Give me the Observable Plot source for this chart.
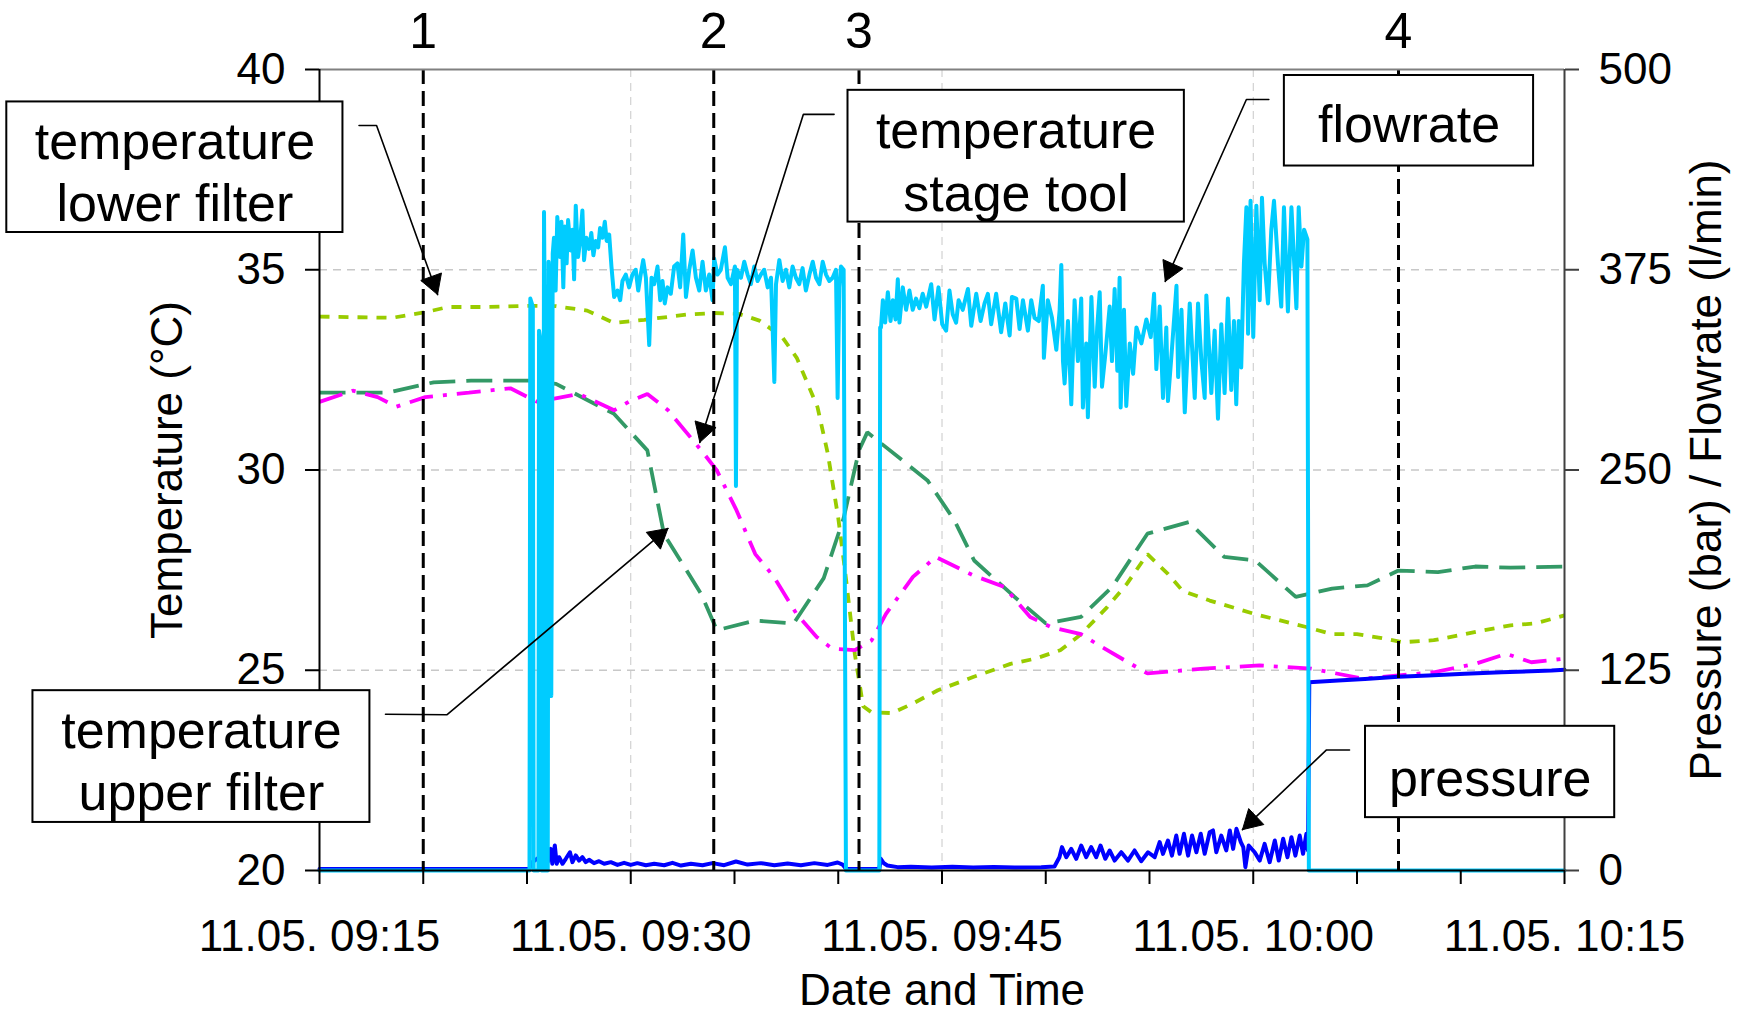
<!DOCTYPE html>
<html><head><meta charset="utf-8">
<script src="https://cdn.jsdelivr.net/npm/d3@7"></script>
<script src="https://cdn.jsdelivr.net/npm/@observablehq/plot@0.6"></script>
<style>html,body{margin:0;padding:0;background:#fff;} svg{display:block;}</style>
</head><body><div id="chart"></div>
<script>
// time axis: minutes after 11.05. 09:15
const xTicks = [0,5,10,15,20,25,30,35,40,45,50,55,60];
const xLabelTicks = [0,15,30,45,60];
const xGrid = [15,30,45];
const tempTicks = [20,25,30,35,40];
const tempGrid = [25,30,35];
const rightTickLabels = [0,125,250,375,500];
const markerMin = [5,19,26,52];
const markerLabel = ["1","2","3","4"];

// temperature series [minute, °C]
const lowerFilter = [[0,33.83],[3.5,33.8],[5.1,33.94],[6.2,34.07],[8.1,34.07],[10.1,34.1],[11.4,34.09],[12.9,33.98],[14.2,33.67],[15.65,33.75],[17.7,33.88],[19.0,33.92],[20.2,33.9],[21.2,33.73],[22.3,33.32],[23.0,32.8],[24.0,31.57],[24.5,30.4],[25.0,28.8],[25.3,27.6],[25.8,25.4],[26.2,24.1],[26.6,23.95],[27.6,23.93],[28.6,24.17],[29.8,24.5],[31.5,24.83],[33.3,25.16],[34.5,25.29],[35.7,25.5],[36.7,25.9],[37.95,26.57],[38.9,27.15],[39.9,27.9],[40.9,27.4],[41.6,26.98],[42.9,26.74],[45.1,26.4],[47.55,26.08],[48.8,25.9],[50.0,25.9],[51.2,25.8],[52.2,25.7],[53.7,25.75],[54.9,25.87],[56.1,26.0],[57.4,26.12],[58.6,26.17],[60,26.37]];
const upperFilter = [[0,31.93],[3.3,31.93],[5.5,32.19],[7.3,32.23],[10.1,32.23],[11.4,32.15],[14.2,31.4],[15.8,30.49],[16.6,28.4],[18.4,26.9],[19.15,26.0],[21.0,26.24],[22.85,26.17],[24.3,27.3],[25.26,28.8],[26.0,30.49],[26.4,30.94],[29.3,29.74],[30.6,28.74],[31.55,27.74],[33.5,26.83],[35.0,26.17],[36.7,26.33],[38.2,27.08],[39.9,28.41],[41.9,28.7],[43.6,27.83],[45.1,27.74],[47.05,26.83],[48.8,27.04],[50.5,27.12],[52.0,27.49],[53.9,27.45],[55.7,27.59],[57.4,27.56],[60,27.59]];
const stageTool = [[0,31.7],[1.6,31.98],[2.8,31.82],[3.7,31.58],[5.1,31.82],[7.2,31.93],[9.2,32.04],[10.5,31.7],[12.5,31.9],[14.2,31.49],[14.9,31.7],[15.8,31.9],[16.8,31.49],[18.4,30.49],[19.15,29.99],[20.1,28.99],[21.0,27.9],[21.9,27.33],[23.0,26.4],[23.96,25.83],[24.7,25.54],[25.8,25.5],[26.6,25.74],[27.3,26.41],[28.6,27.33],[29.7,27.83],[31.5,27.37],[33.0,27.08],[34.25,26.33],[35.25,26.08],[36.7,25.9],[37.7,25.58],[39.9,24.92],[42.6,25.04],[45.3,25.12],[47.8,25.04],[50.3,24.79],[52.0,24.87],[53.7,24.95],[55.7,25.16],[57.2,25.41],[58.4,25.2],[60,25.29]];

// pressure [minute, bar]
const pressure = [[0,1],[10.1,1],[10.26,5.2],[10.82,10.4],[10.9,13.5],[11.0,5.2],[11.14,13.5],[11.22,4.2],[11.34,15.6],[11.43,4.2],[11.55,8.3],[11.71,4.2],[11.87,7.3],[12.07,11.4],[12.19,5.2],[12.35,9.4],[12.51,6.2],[12.67,8.3],[12.83,5.2],[12.99,6.7],[13.23,4.6],[13.47,5.8],[13.72,4.2],[14.04,5.2],[14.36,3.5],[14.68,4.8],[15.0,3.5],[15.32,4.6],[15.73,3.3],[16.13,4.2],[16.61,3.3],[17.01,4.8],[17.42,3.1],[17.9,4.2],[18.46,3.3],[18.94,4.6],[19.5,3.3],[20.07,5.6],[20.63,3.7],[21.27,4.6],[21.92,3.3],[22.56,4.4],[23.2,3.3],[23.85,4.6],[24.49,3.5],[24.97,5.0],[25.21,3.7],[25.37,1],[26.98,1],[27.05,7.3],[27.2,4.5],[27.37,3.1],[27.86,2.1],[28.5,2.4],[29.5,1.9],[30.5,2.3],[31.5,1.9],[32.5,2.2],[33.5,1.9],[34.78,2.1],[35.42,2.5],[35.66,8.3],[35.78,14.6],[35.99,8.3],[36.23,13.5],[36.47,7.3],[36.71,15.6],[36.95,8.3],[37.19,14.6],[37.43,8.3],[37.64,15.6],[37.87,7.3],[38.08,12.5],[38.32,6.2],[38.64,11.4],[38.96,6.2],[39.28,12.5],[39.6,5.8],[39.93,11.4],[40.25,8.3],[40.49,17.7],[40.65,10.4],[40.89,18.7],[41.08,9.3],[41.29,21.8],[41.45,10.4],[41.66,22.9],[41.86,9.3],[42.05,21.8],[42.26,11.4],[42.47,22.9],[42.66,10.4],[42.9,23.9],[43.06,25],[43.22,11.4],[43.46,21.8],[43.7,12.5],[43.87,25],[44.03,13.5],[44.19,26],[44.4,17.7],[44.52,14.6],[44.62,2.1],[44.78,15.6],[45.07,11.4],[45.31,6.2],[45.55,16.6],[45.79,5.2],[46.04,18.7],[46.23,6.2],[46.44,19.8],[46.65,8.3],[46.84,20.8],[47.03,9.3],[47.24,21.8],[47.4,10.4],[47.56,22.9],[47.64,12.5],[47.7,117.5],[49.09,118.6],[50.38,119.6],[51.99,121],[53.43,121.7],[55.2,122.8],[56.97,123.8],[59.38,124.8],[60,125.3]];

// flowrate [minute, l/min]
const flowrate = [[0,0],[10.12,0],[10.16,357],[10.28,352],[10.32,0],[10.55,0],[10.58,337],[10.66,330],[10.7,0],[10.78,0],[10.82,411],[10.88,300],[10.92,0],[11.0,0],[11.04,380],[11.1,360],[11.17,109],[11.24,385],
[11.3,395],[11.38,362],[11.46,408],[11.59,383],[11.66,405],[11.75,364],[11.82,402],[11.91,379],[11.98,406],[12.11,387],[12.19,400],[12.27,369],[12.35,415],[12.46,383],[12.56,393],[12.67,412],[12.75,381],[12.86,395],[12.99,388],[13.1,398],[13.2,384],[13.31,393],[13.43,389],[13.52,401],[13.64,395],[13.75,405],[13.84,393],[13.96,397],[14.07,377],[14.2,358],[14.36,362],[14.49,356],[14.6,368],[14.76,372],[14.92,364],[15.08,372],[15.24,375],[15.36,362],[15.48,372],[15.6,381],[15.73,370],[15.89,328],[16.0,370],[16.13,366],[16.29,377],[16.42,356],[16.53,368],[16.64,354],[16.77,364],[16.93,360],[17.09,377],[17.25,379],[17.38,364],[17.53,397],[17.66,358],[17.82,375],[17.98,387],[18.14,370],[18.3,362],[18.46,380],[18.62,362],[18.78,372],[18.94,356],[19.02,382],[19.18,372],[19.34,375],[19.54,389],[19.67,370],[19.83,366],[20.02,377],[20.07,240],[20.12,375],[20.31,370],[20.47,380],[20.63,372],[20.79,366],[20.95,377],[21.11,368],[21.27,372],[21.43,375],[21.6,364],[21.76,370],[21.92,305],[22.0,366],[22.16,381],[22.32,368],[22.48,375],[22.64,364],[22.8,377],[22.96,370],[23.12,366],[23.28,376],[23.44,362],[23.61,372],[23.77,380],[23.93,370],[24.09,366],[24.25,380],[24.41,372],[24.57,368],[24.73,370],[24.89,375],[24.97,295],[25.05,364],[25.13,377],[25.26,375],[25.37,0],
[26.98,0],[27.02,339],[27.06,339],[27.15,356],[27.26,342],[27.39,361],[27.52,343],[27.63,356],[27.76,344],[27.87,369],[27.95,342],[28.11,364],[28.27,350],[28.43,362],[28.59,350],[28.75,357],[28.91,351],[29.07,360],[29.24,352],[29.48,366],[29.64,344],[29.83,364],[30.01,341],[30.2,337],[30.36,362],[30.52,347],[30.68,342],[30.8,356],[31.0,350],[31.25,363],[31.41,340],[31.65,360],[31.86,343],[32.05,354],[32.21,360],[32.37,341],[32.61,360],[32.85,336],[33.05,354],[33.26,334],[33.37,358],[33.58,357],[33.74,338],[33.9,356],[34.14,337],[34.3,356],[34.46,345],[34.66,343],[34.86,365],[34.91,320],[35.1,356],[35.3,345],[35.51,325],[35.67,350],[35.75,378],[35.83,318],[35.91,304],[36.07,343],[36.23,291],[36.39,356],[36.55,318],[36.71,357],[36.79,289],[36.95,329],[37.03,283],[37.2,358],[37.36,302],[37.48,339],[37.6,361],[37.71,302],[37.87,322],[38.08,352],[38.19,318],[38.32,363],[38.45,312],[38.56,370],[38.61,289],[38.77,350],[38.88,290],[39.05,329],[39.21,310],[39.37,339],[39.61,329],[39.85,344],[40.06,333],[40.22,360],[40.33,313],[40.49,352],[40.65,295],[40.81,339],[40.89,293],[41.09,327],[41.3,365],[41.38,308],[41.54,350],[41.7,286],[41.94,354],[42.18,295],[42.34,354],[42.5,318],[42.66,295],[42.74,359],[42.98,298],[43.14,337],[43.3,282],[43.46,341],[43.62,298],[43.78,357],[43.94,300],[44.07,343],[44.18,291],[44.3,343],[44.42,314],[44.55,379],[44.67,414],[44.75,335],[44.87,418],[45.0,333],[45.15,415],[45.31,356],[45.42,420],[45.55,379],[45.71,354],[45.87,400],[46.0,418],[46.19,379],[46.35,352],[46.48,414],[46.67,349],[46.84,414],[47.08,351],[47.19,414],[47.32,377],[47.45,400],[47.61,394],[47.68,0],[60,0]];

// annotation boxes (data coordinates: minute, °C)
const boxLabel = ["temperature\nlower filter","temperature\nstage tool","flowrate","pressure","temperature\nupper filter"];
const boxLeft = [-15.07, 25.47, 46.50, 50.41, -13.81];
const boxRight = [1.13, 41.68, 58.51, 62.42, 2.43];
const boxBottom = [35.93, 36.19, 37.59, 21.32, 21.20];
const boxTop = [39.19, 39.48, 39.85, 23.60, 24.49];
const boxTextX = [-6.97, 33.57, 52.51, 56.42, -5.69];
const boxTextY = [37.49, 37.75, 38.68, 22.37, 22.79];
// leader lines: start, elbow, arrow tip
const leaders = [
  [[1.905,38.60],[2.75,38.60],[5.69,34.38]],
  [[24.80,38.88],[23.32,38.88],[18.33,30.69]],
  [[45.75,39.25],[44.67,39.25],[40.76,34.71]],
  [[49.64,23.01],[48.53,23.01],[44.48,21.02]],
  [[3.18,23.90],[6.15,23.89],[16.79,28.54]]
];

const W = 1743, H = 1012, ML = 319, MR = 179, MT = 69, MB = 142;
const kx = (W - ML - MR) / 60, ky = (H - MT - MB) / 20;
const toY = v => 20 + v * 20 / 500; // right axis → temperature scale

const leaderPts = leaders.flatMap((pts, id) => pts.map(p => ({id, x: p[0], y: p[1]})));
const heads = leaders.flatMap((pts, id) => {
  const p = pts[pts.length - 2], t = pts[pts.length - 1];
  let ux = (t[0] - p[0]) * kx, uy = -(t[1] - p[1]) * ky;
  const L = Math.hypot(ux, uy); ux /= L; uy /= L;
  const len = 19, hw = 11;
  const nx = -uy, ny = ux;
  const pt = (ox, oy) => ({id, x: t[0] + ox / kx, y: t[1] - oy / ky});
  return [pt(0, 0), pt(-ux * len + nx * hw, -uy * len + ny * hw), pt(-ux * len - nx * hw, -uy * len - ny * hw), pt(0, 0)];
});

const fmtX = m => {
  if (!xLabelTicks.includes(m)) return "";
  const tot = 9 * 60 + 15 + m, h = Math.floor(tot / 60), mm = tot % 60;
  return `11.05. ${String(h).padStart(2, "0")}:${String(mm).padStart(2, "0")}`;
};
const rightLabel = new Map(tempTicks.map((t, i) => [t, rightTickLabels[i]]));
const idx = boxLabel.map((_, i) => i);

const chart = Plot.plot({
  width: W, height: H,
  marginLeft: ML, marginRight: MR, marginTop: MT, marginBottom: MB,
  x: {domain: [0, 60], axis: null},
  y: {domain: [20, 40], axis: null},
  style: {fontFamily: "'Liberation Sans', Arial, sans-serif", fontSize: "44px", background: "white", color: "black", overflow: "visible"},
  marks: [
    Plot.ruleY(tempGrid, {stroke: "#c8c8c8", strokeWidth: 1.5, strokeDasharray: "8,6"}),
    Plot.ruleX(xGrid, {stroke: "#c8c8c8", strokeWidth: 1, strokeDasharray: "8,6"}),
    Plot.line(lowerFilter, {x: d => d[0], y: d => d[1], stroke: "#99CC00", strokeWidth: 3.8, strokeDasharray: "10,9", strokeLinecap: "butt", strokeLinejoin: "miter"}),
    Plot.line(upperFilter, {x: d => d[0], y: d => d[1], stroke: "#339966", strokeWidth: 3.8, strokeDasharray: "26,11", strokeLinecap: "butt", strokeLinejoin: "miter"}),
    Plot.line(stageTool, {x: d => d[0], y: d => d[1], stroke: "#FF00FF", strokeWidth: 3.8, strokeDasharray: "24,10,4,10", strokeLinecap: "butt", strokeLinejoin: "miter"}),
    Plot.line(pressure, {x: d => d[0], y: d => toY(d[1]), stroke: "#0000FF", strokeWidth: 4}),
    Plot.line(flowrate, {x: d => d[0], y: d => toY(d[1]), stroke: "#00CCFF", strokeWidth: 4}),
    Plot.ruleX(markerMin, {stroke: "black", strokeWidth: 3, strokeDasharray: "15,7"}),
    Plot.ruleY([40], {stroke: "#808080", strokeWidth: 2}),
    Plot.ruleY([20], {stroke: "black", strokeWidth: 2}),
    Plot.ruleX([0], {stroke: "black", strokeWidth: 2}),
    Plot.ruleX([60], {stroke: "#404040", strokeWidth: 2}),
    Plot.axisX(xTicks, {anchor: "bottom", tickSize: 14, tickPadding: 35, tickFormat: fmtX, fontSize: 44, strokeWidth: 2, label: null}),
    Plot.axisY(tempTicks, {anchor: "left", tickSize: 14, tickPadding: 20, fontSize: 44, strokeWidth: 2, label: null}),
    Plot.axisY(tempTicks, {anchor: "right", tickSize: 14, tickPadding: 20, tickFormat: d => rightLabel.get(d), fontSize: 44, stroke: "#404040", strokeWidth: 2, label: null}),
    Plot.line(leaderPts, {x: "x", y: "y", z: "id", stroke: "black", strokeWidth: 1.6, strokeLinejoin: "miter"}),
    Plot.line(heads, {x: "x", y: "y", z: "id", fill: "black", stroke: "black", strokeWidth: 1}),
    Plot.rect(idx, {x1: i => boxLeft[i], x2: i => boxRight[i], y1: i => boxBottom[i], y2: i => boxTop[i], fill: "white", stroke: "black", strokeWidth: 2}),
    Plot.text(idx, {x: i => boxTextX[i], y: i => boxTextY[i], text: i => boxLabel[i], fontSize: 52, lineHeight: 1.2, fill: "black"}),
    Plot.text(markerLabel, {x: (d, i) => markerMin[i], frameAnchor: "top", dy: -38, lineAnchor: "middle", textAnchor: "middle", fontSize: 50, fill: "black"}),
    Plot.text(["Temperature (°C)"], {frameAnchor: "left", dx: -152, rotate: -90, textAnchor: "middle", lineAnchor: "middle", fontSize: 44, fill: "black"}),
    Plot.text(["Pressure (bar) / Flowrate (l/min)"], {frameAnchor: "right", dx: 142, rotate: -90, textAnchor: "middle", lineAnchor: "middle", fontSize: 44, fill: "black"}),
    Plot.text(["Date and Time"], {frameAnchor: "bottom", dy: 120, textAnchor: "middle", lineAnchor: "middle", fontSize: 44, fill: "black"})
  ]
});
document.getElementById("chart").appendChild(chart);
</script>
</body></html>
